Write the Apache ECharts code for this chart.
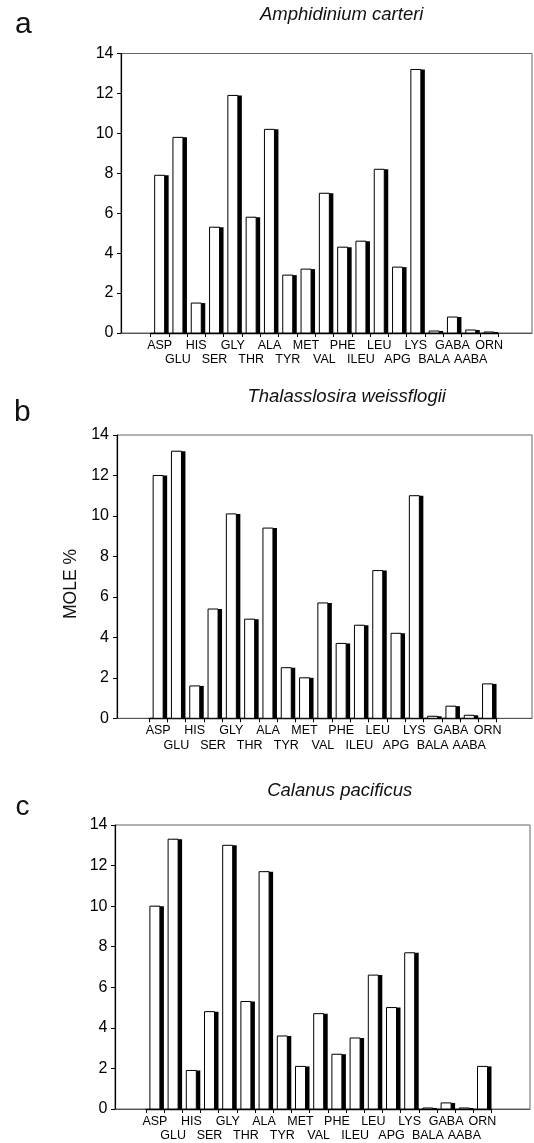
<!DOCTYPE html>
<html>
<head>
<meta charset="utf-8">
<script src="https://cdn.jsdelivr.net/npm/echarts@6/dist/echarts.min.js"></script>
<style>
html,body{margin:0;padding:0;background:#fff;}
#chart{width:534px;height:1143px;}
</style>
</head>
<body>
<div id="chart"></div>
<script>
// ---- data ----
const categories = ['ASP','GLU','HIS','SER','GLY','THR','ALA','TYR','MET','VAL','PHE','ILEU','LEU','APG','LYS','BALA','GABA','AABA','ORN'];
const amphidiniumCarteri = [7.9, 9.8, 1.5, 5.3, 11.9, 5.8, 10.2, 2.9, 3.2, 7.0, 4.3, 4.6, 8.2, 3.3, 13.2, 0.1, 0.8, 0.15, 0.05];
const thalassiosiraWeissflogii = [12.0, 13.2, 1.6, 5.4, 10.1, 4.9, 9.4, 2.5, 2.0, 5.7, 3.7, 4.6, 7.3, 4.2, 11.0, 0.1, 0.6, 0.15, 1.7];
const calanusPacificus = [10.0, 13.3, 1.9, 4.8, 13.0, 5.3, 11.7, 3.6, 2.1, 4.7, 2.7, 3.5, 6.6, 5.0, 7.7, 0.05, 0.3, 0.05, 2.1];
const panelTitles = ['Amphidinium carteri', 'Thalasslosira weissflogii', 'Calanus pacificus'];
const panelLetters = ['a', 'b', 'c'];
const yMin = 0, yMax = 14, yInterval = 2;
const yAxisName = 'MOLE %';

// ---- layout (pixels) ----
const panels = [
  {data: amphidiniumCarteri, frameLeft: 121, frameRight: 532, top: 53.5, bottom: 333, axisOffset: 3.5, barLeft: 150.5, slot: 18.3,
   title: {x: 341.7, y: 14.6}, letter: {x: 15, y: 25, size: 30}},
  {data: thalassiosiraWeissflogii, frameLeft: 117, frameRight: 532, top: 435, bottom: 718.3, axisOffset: 4, barLeft: 149, slot: 18.3,
   title: {x: 346.7, y: 397}, letter: {x: 14, y: 413, size: 30}},
  {data: calanusPacificus, frameLeft: 115, frameRight: 530, top: 825, bottom: 1109, axisOffset: 3.5, barLeft: 145.8, slot: 18.2,
   title: {x: 339.7, y: 790.5}, letter: {x: 15.5, y: 807.5, size: 28}}
];
const BAR_W = 10, SHADE_W = 4;

const FONT = '"Liberation Sans", Arial, Helvetica, sans-serif';
const grid = [], xAxis = [], yAxis = [], series = [], graphic = [];

function renderBar(params, api) {
  const top = api.coord([api.value(0), api.value(1)]);
  const base = api.coord([api.value(0), 0]);
  const cx = top[0];
  const h = Math.max(base[1] - top[1], 0.8);
  const y = base[1] - h;
  return {
    type: 'group',
    children: [
      {type: 'rect', shape: {x: cx - BAR_W / 2 + SHADE_W, y: y, width: BAR_W, height: h}, style: {fill: '#000'}},
      {type: 'rect', shape: {x: cx - BAR_W / 2, y: y, width: BAR_W, height: h}, style: {fill: '#fff', stroke: '#000', lineWidth: 1}}
    ]
  };
}

panels.forEach((p, i) => {
  const h = p.bottom - p.top;
  grid.push({left: p.frameLeft, top: p.top, width: p.frameRight - p.frameLeft, height: h,
    show: true, borderColor: '#666', borderWidth: 1, backgroundColor: 'transparent', outerBoundsMode: 'none'});
  grid.push({left: p.barLeft, top: p.top, width: p.slot * categories.length, height: h, outerBoundsMode: 'none'});

  xAxis.push({gridIndex: 2*i, type: 'value', min: 0, max: 1, show: true,
    axisLine: {show: true, lineStyle: {color: '#555', width: 1}},
    axisTick: {show: false}, axisLabel: {show: false}, splitLine: {show: false}});
  xAxis.push({gridIndex: 2*i+1, type: 'category', data: categories, boundaryGap: true,
    axisLine: {show: true, lineStyle: {color: '#000', width: 1.3}},
    axisTick: {show: true, interval: 0, length: 4, lineStyle: {color: '#000', width: 1}},
    axisLabel: {interval: 0, margin: 5, fontSize: 12.5, lineHeight: 14.5, color: '#000', fontFamily: FONT,
      formatter: (v) => (categories.indexOf(v) % 2 === 0 ? v : '\n' + v)}});

  yAxis.push({gridIndex: 2*i, type: 'value', min: yMin, max: yMax, interval: yInterval, offset: p.axisOffset,
    axisLine: {show: true, lineStyle: {color: '#000', width: 1.2}},
    axisTick: {show: true, length: 4, lineStyle: {color: '#000'}},
    axisLabel: {margin: 4, fontSize: 16, color: '#000', fontFamily: FONT},
    splitLine: {show: false}});
  yAxis.push({gridIndex: 2*i+1, type: 'value', min: yMin, max: yMax, show: false, splitLine: {show: false}});

  series.push({type: 'custom', xAxisIndex: 2*i+1, yAxisIndex: 2*i+1,
    data: p.data.map((v, k) => [k, v]), encode: {x: 0, y: 1},
    renderItem: renderBar, silent: true, animation: false, clip: false});

  graphic.push({type: 'text', x: p.title.x, y: p.title.y,
    style: {text: panelTitles[i], font: 'italic 18.5px ' + FONT, fill: '#111', textAlign: 'center', textVerticalAlign: 'middle'}});
  graphic.push({type: 'text', x: p.letter.x, y: p.letter.y,
    style: {text: panelLetters[i], font: p.letter.size + 'px ' + FONT, fill: '#111', textAlign: 'left', textVerticalAlign: 'middle'}});
});

graphic.push({type: 'text', x: 71.5, y: 584, rotation: Math.PI / 2,
  style: {text: yAxisName, font: '17.5px ' + FONT, fill: '#111', textAlign: 'center', textVerticalAlign: 'middle'}});

const chart = echarts.init(document.getElementById('chart'), null, {renderer: 'canvas'});
chart.setOption({
  backgroundColor: '#fff',
  animation: false,
  grid, xAxis, yAxis, series, graphic
});
</script>
</body>
</html>
